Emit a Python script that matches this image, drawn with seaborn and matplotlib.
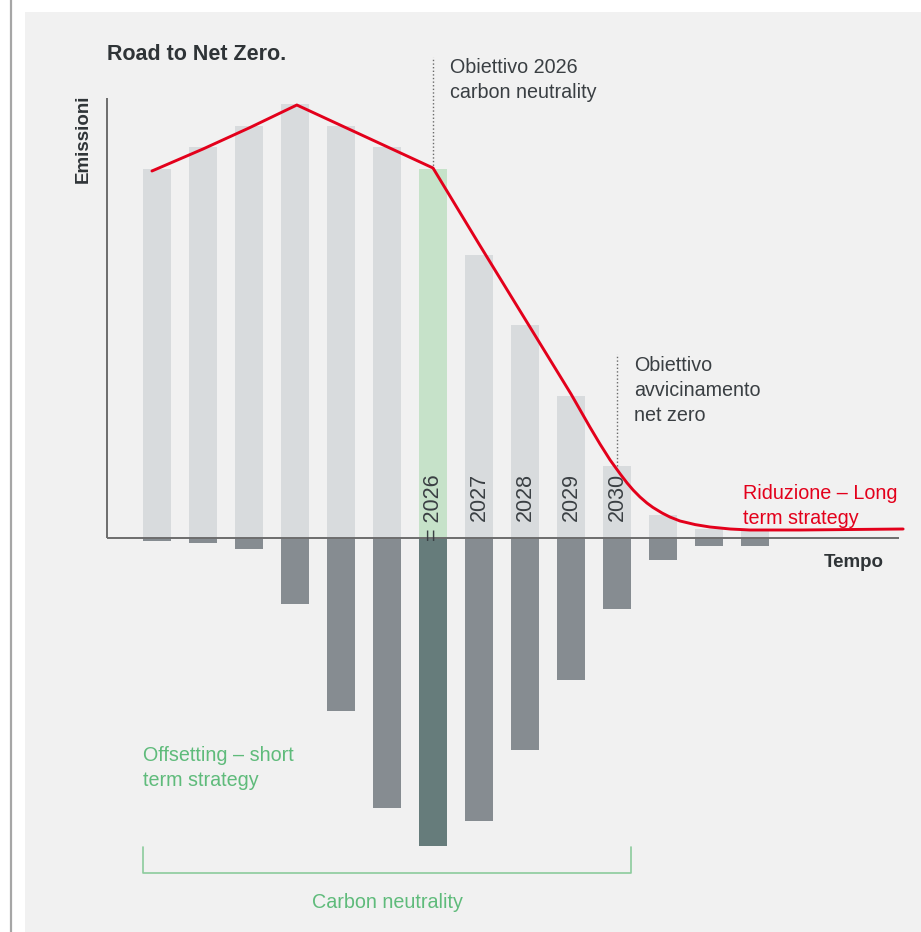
import matplotlib
matplotlib.use("Agg")
import matplotlib.pyplot as plt
import seaborn as sns
import pandas as pd
from matplotlib.patches import Rectangle
from matplotlib.lines import Line2D

sns.set_theme(style="white")
plt.rcParams['font.family'] = ['Liberation Sans', 'DejaVu Sans']

# --- data -------------------------------------------------------------
years = [str(y) for y in range(2020, 2034)]
emissions = [369, 391, 412, 434, 412, 391, 369, 283, 213, 142, 72, 23, 9, 9]
offsets = [-3, -5, -11, -66, -173, -270, -308, -283, -212, -142, -71, -22, -8, -8]
labelled_years = ["2026", "2027", "2028", "2029", "2030"]
target_year = "2026"
nearzero_year = "2030"

# reduction path (position along the period axis, emission level)
path_pos = [-0.11, 1.0, 2.0, 3.04, 6.00, 7.0, 8.0, 9.0, 9.41, 9.63, 9.85,
            10.07, 10.22, 10.35, 10.50, 10.65, 10.78, 10.98, 11.15, 11.37,
            11.70, 12.02, 12.46, 12.89, 13.98, 16.22]
path_val = [367, 389, 410, 433, 370, 294, 219, 144, 111, 94, 78,
            64, 55, 48, 41, 35, 30.6, 25, 21, 17,
            13.4, 11, 9, 8, 8, 9]

# --- colours ----------------------------------------------------------
BG = "#f1f1f1"
POS = "#d8dbdd"
POS_HL = "#c6e2c9"
NEG = "#868c91"
NEG_HL = "#667c7b"
RED = "#e3001b"
GREEN = "#5fbb7b"
TXT = "#3a3f43"
AXIS = "#6d6d6d"

df = pd.DataFrame({"anno": years, "emissioni": emissions, "compensazione": offsets})
pos_pal = {y: (POS_HL if y == target_year else POS) for y in years}
neg_pal = {y: (NEG_HL if y == target_year else NEG) for y in years}

W, H = 921, 932
fig = plt.figure(figsize=(W / 100, H / 100), dpi=100, facecolor="white")

def fx(px):
    return px / W

def fy(py):
    return 1 - py / H

# panel background and left rule
fig.patches.append(Rectangle((fx(25), 0), 1 - fx(25), fy(12), transform=fig.transFigure,
                             facecolor=BG, edgecolor="none", zorder=-10))
fig.lines.append(Line2D([fx(10.5), fx(10.5)], [0, 1], transform=fig.transFigure,
                        color="#a6a6a6", lw=1.6))

ax = fig.add_axes([0, 0, 1, 1])
ax.set_facecolor("none")

bw = 0.63
sns.barplot(data=df, x="anno", y="emissioni", hue="anno", palette=pos_pal,
            legend=False, width=bw, saturation=1, ax=ax, zorder=2,
            linewidth=0, edgecolor="none")
sns.barplot(data=df, x="anno", y="compensazione", hue="anno", palette=neg_pal,
            legend=False, width=bw, saturation=1, ax=ax, zorder=2,
            linewidth=0, edgecolor="none")

x0 = (0 - 157) / 46
ax.set_xlim(x0, x0 + W / 46)
ax.set_ylim(538 - H, 538)
ax.set_axis_off()

# axes
yax = (107 - 157) / 46
xend = (899 - 157) / 46
ax.plot([yax, yax], [440, 0], color=AXIS, lw=1.4, zorder=3, solid_capstyle="butt")
ax.plot([yax, xend], [0, 0], color=AXIS, lw=1.4, zorder=3, solid_capstyle="butt")

# reduction path
sns.lineplot(x=path_pos, y=path_val, sort=False, estimator=None, color=RED,
             lw=2.1, ax=ax, zorder=5)
ax.lines[-1].set_solid_joinstyle("round")

# year labels inside the bars
for y in labelled_years:
    i = years.index(y)
    txt = "= " + y if y == target_year else y
    base = -3 if y == target_year else 17
    ax.text(i, base, txt, rotation=90, ha="center", va="bottom", fontsize=15.5,
            color=TXT, zorder=4)

# milestone markers
ti = years.index(target_year)
ni = years.index(nearzero_year)
ax.vlines(ti, emissions[ti], 538 - 57, colors="#6a6a6a", linestyles=(0, (1, 1.6)), lw=1, zorder=3)
ax.vlines(ni, emissions[ni], 538 - 354, colors="#6a6a6a", linestyles=(0, (1, 1.6)), lw=1, zorder=3)

# carbon neutrality bracket
bl, br = 0 - bw / 2, ni + bw / 2
ax.plot([bl, bl, br, br], [-309, -335, -335, -309], color="#8ccb9c", lw=1.2, zorder=3)

# texts
LS = 1.39
fig.text(fx(107), fy(44), "Road to Net Zero.", fontsize=15.5, fontweight="bold",
         color="#2f3437", ha="left", va="top")
fig.text(fx(83), fy(139), "Emissioni", fontsize=13.5, fontweight="bold",
         color="#2f3437", rotation=90, ha="center", va="center")
fig.text(fx(884), fy(554), "Tempo", fontsize=13.5, fontweight="bold",
         color="#2f3437", ha="right", va="top")
fig.text(fx(450), fy(58), "Obiettivo 2026\ncarbon neutrality", fontsize=14.2,
         color=TXT, ha="left", va="top", linespacing=LS)
fig.text(fx(634), fy(356), "Obiettivo\navvicinamento\nnet zero", fontsize=14.2,
         color=TXT, ha="left", va="top", linespacing=LS)
fig.text(fx(743), fy(484), "Riduzione \u2013 Long\nterm strategy", fontsize=14.2,
         color=RED, ha="left", va="top", linespacing=LS)
fig.text(fx(143), fy(746), "Offsetting \u2013 short\nterm strategy", fontsize=14.2,
         color=GREEN, ha="left", va="top", linespacing=LS)
fig.text(fx(387), fy(893), "Carbon neutrality", fontsize=14.2,
         color=GREEN, ha="center", va="top")

fig.savefig("out.png", dpi=100, facecolor="white")
